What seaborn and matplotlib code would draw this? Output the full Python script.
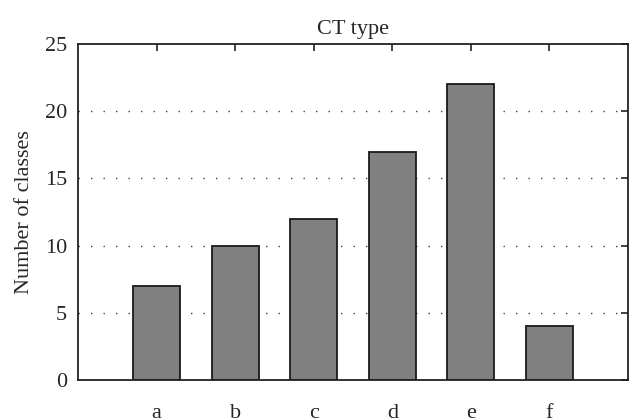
import matplotlib
matplotlib.use("Agg")
import matplotlib.pyplot as plt
import seaborn as sns
import pandas as pd

categories = ["a", "b", "c", "d", "e", "f"]
values = [7, 10, 12, 17, 22, 4]
yticks = [0, 5, 10, 15, 20, 25]

sns.set_style("white")
plt.rcParams['font.family'] = ['Liberation Serif', 'DejaVu Serif']

df = pd.DataFrame({"type": categories, "count": values})

fig = plt.figure(figsize=(6.43, 4.2), dpi=100)
ax = fig.add_axes([78/643, 1 - 380/420, 550/643, 336/420])

sns.barplot(data=df, x="type", y="count", color="#808080", saturation=1,
            edgecolor="#1a1a1a", linewidth=1.3, width=0.6, ax=ax)

ax.set_xlim(-1, 6)
ax.set_ylim(0, 25)
ax.set_yticks(yticks)
ax.set_title("CT type", fontsize=16, pad=7)
ax.set_ylabel("Number of classes", fontsize=16, labelpad=8)
ax.set_xlabel("")

for y in yticks[1:-1]:
    ax.axhline(y, color="#444444", linestyle=(0, (1, 8)), linewidth=1.0, zorder=0)

for s in ax.spines.values():
    s.set_visible(True)
    s.set_color("#222222")
    s.set_linewidth(1.3)

ax.tick_params(axis="both", direction="in", length=5, width=1.2, color="#222222",
               top=True, right=True, labelsize=16)
ax.tick_params(axis="x", pad=17)
ax.tick_params(axis="y", pad=8)

fig.savefig("out.png", dpi=100)
